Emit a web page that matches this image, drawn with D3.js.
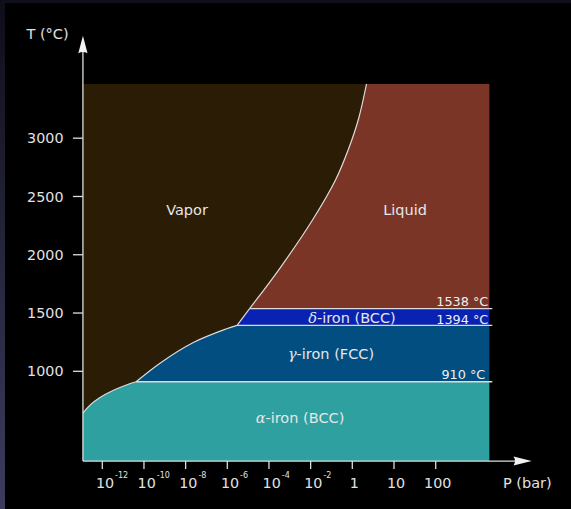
<!DOCTYPE html>
<html>
<head>
<meta charset="utf-8">
<script src="https://cdn.jsdelivr.net/npm/d3@7"></script>
<style>
  html, body { margin: 0; padding: 0; background: #000; }
  svg { display: block; }
  text { font-family: "DejaVu Sans", sans-serif; }
</style>
</head>
<body>
<svg id="chart" width="571" height="509"></svg>
<script>
// ---------- data ----------
// pressure as log10(P / bar); temperature in °C
const pressureExtent = [-12.93, 3.285];
const temperatureExtent = [230, 3465];

const xTickLogP = [-12, -10, -8, -6, -4, -2, 0, 1, 2];
const xTickText = ["10", "10", "10", "10", "10", "10", "1", "10", "100"];
const xTickSup  = ["-12", "-10", "-8", "-6", "-4", "-2", "", "", ""];
const yTicks = [1000, 1500, 2000, 2500, 3000];

const transitionT = [910, 1394, 1538];
const transitionLabels = ["910 °C", "1394 °C", "1538 °C"];

// phase boundaries [log10 P, T]
const alphaVaporCurve  = [[-12.93, 642], [-12.59, 710], [-12.11, 775], [-11.49, 835], [-10.91, 878], [-10.38, 910]];
const gammaVaporCurve  = [[-10.38, 910], [-9.23, 1070], [-7.63, 1247], [-6.03, 1365], [-5.53, 1394]];
const deltaVaporCurve  = [[-5.53, 1394], [-4.93, 1538]];
const liquidVaporCurve = [[-4.93, 1538], [-3.47, 1886], [-1.91, 2298], [-0.806, 2641], [-0.182, 2907], [0.149, 3165], [0.34, 3465]];

const colors = {
  vapor: "#2b1c05",
  liquid: "#7a3526",
  delta: "#0a22b2",
  gamma: "#034e80",
  alpha: "#2ea0a0",
  line: "#dcdcdc",
  text: "#e6e6e6"
};

// ---------- drawing ----------
const svg = d3.select("#chart");

// screenshot frame
const defs = svg.append("defs");
const grad = defs.append("linearGradient").attr("id", "frameGrad")
  .attr("x1", 0).attr("y1", 0).attr("x2", 0).attr("y2", 1);
grad.append("stop").attr("offset", "0%").attr("stop-color", "#0e0e19");
grad.append("stop").attr("offset", "100%").attr("stop-color", "#3d3c5e");
svg.append("rect").attr("x", 0).attr("y", 0).attr("width", 571).attr("height", 509).attr("fill", "#000");
svg.append("rect").attr("x", 0).attr("y", 0).attr("width", 5).attr("height", 509).attr("fill", "url(#frameGrad)");
svg.append("rect").attr("x", 0).attr("y", 0).attr("width", 571).attr("height", 3).attr("fill", "#0f0f1a");

const x = d3.scaleLinear().domain([-12, 0, 2]).range([102.3, 352.3, 435.7]);
const y = d3.scaleLinear().domain([1000, 3000]).range([371.3, 138.2]);

const [pMin, pMax] = pressureExtent;
const [tMin, tMax] = temperatureExtent;

const line = d3.line().x(d => x(d[0])).y(d => y(d[1])).curve(d3.curveCatmullRom.alpha(0.5));
const straight = d3.line().x(d => x(d[0])).y(d => y(d[1]));
const P = (p, t) => `${x(p)},${y(t)}`;

const g = svg.append("g");

// vapor background
g.append("rect")
  .attr("x", x(pMin)).attr("y", y(tMax))
  .attr("width", x(pMax) - x(pMin)).attr("height", y(tMin) - y(tMax))
  .attr("fill", colors.vapor);

// liquid
g.append("path")
  .attr("d", line(liquidVaporCurve) + `L${P(pMax, tMax)}L${P(pMax, transitionT[2])}Z`)
  .attr("fill", colors.liquid);

// delta
g.append("path")
  .attr("d", straight(deltaVaporCurve) + `L${P(pMax, transitionT[2])}L${P(pMax, transitionT[1])}Z`)
  .attr("fill", colors.delta);

// gamma
g.append("path")
  .attr("d", line(gammaVaporCurve) + `L${P(pMax, transitionT[1])}L${P(pMax, transitionT[0])}Z`)
  .attr("fill", colors.gamma);

// alpha
g.append("path")
  .attr("d", line(alphaVaporCurve) + `L${P(pMax, transitionT[0])}L${P(pMax, tMin)}L${P(pMin, tMin)}Z`)
  .attr("fill", colors.alpha);

// boundary curves
[alphaVaporCurve, gammaVaporCurve, liquidVaporCurve].forEach(c => {
  g.append("path").attr("d", line(c)).attr("fill", "none")
    .attr("stroke", colors.line).attr("stroke-width", 1.2);
});
g.append("path").attr("d", straight(deltaVaporCurve)).attr("fill", "none")
  .attr("stroke", colors.line).attr("stroke-width", 1.2);

// horizontal transition lines
const lineStart = [alphaVaporCurve[alphaVaporCurve.length - 1][0], gammaVaporCurve[gammaVaporCurve.length - 1][0], liquidVaporCurve[0][0]];
transitionT.forEach((t, i) => {
  g.append("line")
    .attr("x1", x(lineStart[i])).attr("x2", x(pMax) + 3)
    .attr("y1", y(t)).attr("y2", y(t))
    .attr("stroke", colors.line).attr("stroke-width", 1.4);
});

// transition labels
const labelDy = [-3, -1.5, -2.5];
const labelDx = [-4, -1, -1];
transitionT.forEach((t, i) => {
  g.append("text")
    .attr("x", x(pMax) + labelDx[i]).attr("y", y(t) + labelDy[i])
    .attr("text-anchor", "end").attr("font-size", 12.8)
    .attr("fill", "#f0f0f0").text(transitionLabels[i]);
});

// region labels
function regionLabel(px, py, greek, rest) {
  const t = g.append("text").attr("x", px).attr("y", py)
    .attr("text-anchor", "middle").attr("font-size", 14.5).attr("fill", colors.text);
  if (greek) {
    t.append("tspan").attr("font-family", "DejaVu Serif").attr("font-style", "italic").text(greek);
  }
  t.append("tspan").text(rest);
}
regionLabel(187, 215, null, "Vapor");
regionLabel(405, 215, null, "Liquid");
regionLabel(352, 323, "δ", "-iron (BCC)");
regionLabel(331, 359, "γ", "-iron (FCC)");
regionLabel(300, 423, "α", "-iron (BCC)");

// axes
const axisColor = "#dedede";
const x0 = x(pMin), y0 = y(tMin);
svg.append("line").attr("x1", x0).attr("x2", 515).attr("y1", y0).attr("y2", y0)
  .attr("stroke", axisColor).attr("stroke-width", 1.3);
svg.append("line").attr("x1", x0).attr("x2", x0).attr("y1", y0).attr("y2", 51)
  .attr("stroke", axisColor).attr("stroke-width", 1.3);
// arrow heads
svg.append("path")
  .attr("d", `M${x0},35.7 L${x0 + 4.6},53.3 Q${x0},50.5 ${x0 - 4.6},53.3 Z`)
  .attr("fill", "#f2f2f2");
svg.append("path")
  .attr("d", `M531.7,${y0} L513.5,${y0 - 4.5} Q516.5,${y0} 513.5,${y0 + 4.5} Z`)
  .attr("fill", "#f2f2f2");

// y ticks
const yAxis = svg.append("g");
yTicks.forEach(t => {
  yAxis.append("line").attr("x1", x0 - 10).attr("x2", x0).attr("y1", y(t)).attr("y2", y(t))
    .attr("stroke", axisColor).attr("stroke-width", 1.3);
  yAxis.append("text").attr("x", 63.5).attr("y", y(t)).attr("dy", "0.36em")
    .attr("text-anchor", "end").attr("font-size", 14.3).attr("fill", "#e2e2e2").text(t);
});

// x ticks
const xAxis = svg.append("g");
xTickLogP.forEach((p, i) => {
  const px = x(p);
  xAxis.append("line").attr("x1", px).attr("x2", px).attr("y1", y0).attr("y2", y0 + 8)
    .attr("stroke", axisColor).attr("stroke-width", 1.3);
  const t = xAxis.append("text").attr("y", 488).attr("font-size", 14.3).attr("fill", "#e2e2e2");
  if (xTickSup[i]) {
    t.attr("x", px + 2.5 - 8.9).attr("text-anchor", "start");
    t.append("tspan").text(xTickText[i]);
    t.append("tspan").attr("font-size", 8).attr("dy", -10).attr("dx", 1).text(xTickSup[i]);
  } else {
    t.attr("x", px + 2).attr("text-anchor", "middle").text(xTickText[i]);
  }
});

// axis titles
svg.append("text").attr("x", 26.5).attr("y", 39).attr("font-size", 14.5)
  .attr("fill", "#e2e2e2").text("T (°C)");
svg.append("text").attr("x", 503).attr("y", 488).attr("font-size", 14.5)
  .attr("fill", "#e2e2e2").attr("xml:space", "preserve").text("P (bar)");
</script>
</body>
</html>
